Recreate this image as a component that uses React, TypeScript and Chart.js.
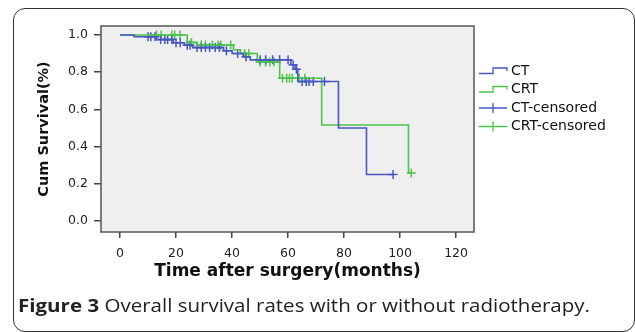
import React, { useEffect, useRef } from "react";
import { Chart, registerables } from "chart.js";

Chart.register(...registerables);

// ---- data ----
const xTicks = [0, 20, 40, 60, 80, 100, 120];
const yTicks = [0, 0.2, 0.4, 0.6, 0.8, 1.0];

const ctTimes = [0, 5, 13, 19, 23, 26, 37, 40, 44, 46.5, 61, 62.5, 63.5, 78, 88, 97.5];
const ctSurv = [1.0, 0.99, 0.975, 0.958, 0.945, 0.932, 0.915, 0.9, 0.883, 0.866, 0.84, 0.815, 0.75, 0.5, 0.25, 0.25];

const ctCensTimes = [10, 11, 12.5, 14.5, 16, 17, 18.5, 20, 21.5, 24, 25, 27.5, 29, 30.5, 32, 34, 35.5, 38, 42, 45, 50, 52, 54.5, 57, 60, 61.8, 63, 65, 66.5, 67.5, 69, 73, 97.5];
const ctCensSurv = [0.99, 0.99, 0.99, 0.975, 0.975, 0.975, 0.975, 0.958, 0.958, 0.945, 0.945, 0.932, 0.932, 0.932, 0.932, 0.932, 0.932, 0.915, 0.9, 0.883, 0.866, 0.866, 0.866, 0.866, 0.866, 0.84, 0.815, 0.75, 0.75, 0.75, 0.75, 0.75, 0.25];

const crtTimes = [0, 24, 27.5, 40.5, 43, 49, 57, 72, 103, 104];
const crtSurv = [1.0, 0.96, 0.946, 0.92, 0.9, 0.855, 0.767, 0.516, 0.258, 0.258];

const crtCensTimes = [13, 14.7, 18.5, 19.5, 21.4, 25.5, 29, 30.5, 33, 35, 36, 39.5, 44.5, 46, 50, 52, 53.5, 55, 58, 59.5, 60.5, 61.5, 64, 66, 104];
const crtCensSurv = [1.0, 1.0, 1.0, 1.0, 1.0, 0.96, 0.946, 0.946, 0.946, 0.946, 0.946, 0.946, 0.9, 0.9, 0.855, 0.855, 0.855, 0.855, 0.767, 0.767, 0.767, 0.767, 0.767, 0.767, 0.258];

const legendLabels = ["CT", "CRT", "CT-censored", "CRT-censored"];

const BLUE = "#4657c2";
const GREEN = "#4cc44c";

const pts = (xs: number[], ys: number[]) => xs.map((x, i) => ({ x, y: ys[i] }));

const framePlugin = {
  id: "frame",
  beforeDatasetsDraw(chart: any) {
    const { ctx, chartArea } = chart;
    const { left, top, right, bottom } = chartArea;
    ctx.save();
    ctx.fillStyle = "#efefef";
    ctx.fillRect(left, top, right - left, bottom - top);
    ctx.strokeStyle = "#555";
    ctx.lineWidth = 1.5;
    ctx.strokeRect(left, top, right - left, bottom - top);
    ctx.restore();
  },
};

const legendPlugin = {
  id: "kmLegend",
  afterDraw(chart: any) {
    const ctx = chart.ctx;
    const x0 = 479;
    const x1 = 507;
    const xm = 493;
    const y0 = 71;
    const gap = 18.5;
    const colors = [BLUE, GREEN, BLUE, GREEN];
    ctx.save();
    ctx.font = '14px "DejaVu Sans"';
    ctx.textBaseline = "middle";
    ctx.textAlign = "left";
    legendLabels.forEach((label, i) => {
      const y = y0 + i * gap;
      ctx.strokeStyle = colors[i];
      ctx.lineWidth = 1.3;
      ctx.beginPath();
      if (i < 2) {
        ctx.moveTo(x0, y + 2.5);
        ctx.lineTo(xm, y + 2.5);
        ctx.lineTo(xm, y - 3);
        ctx.lineTo(x1, y - 3);
        ctx.lineTo(x1, y);
      } else {
        ctx.moveTo(x0, y);
        ctx.lineTo(x1, y);
        ctx.moveTo(xm, y - 5);
        ctx.lineTo(xm, y + 5);
      }
      ctx.stroke();
      ctx.fillStyle = "#111";
      ctx.fillText(label, 511, y);
    });
    ctx.restore();
  },
};

export default function App() {
  const ref = useRef<HTMLCanvasElement>(null);

  useEffect(() => {
    const prev = document.body.style.margin;
    document.body.style.margin = "0";
    const chart = new Chart(ref.current as HTMLCanvasElement, {
      type: "line",
      data: {
        datasets: [
          {
            label: legendLabels[0],
            data: pts(ctTimes, ctSurv),
            borderColor: BLUE,
            borderWidth: 1.6,
            stepped: true,
            pointRadius: 0,
            fill: false,
          },
          {
            label: legendLabels[1],
            data: pts(crtTimes, crtSurv),
            borderColor: GREEN,
            borderWidth: 1.6,
            stepped: true,
            pointRadius: 0,
            fill: false,
          },
          {
            label: legendLabels[2],
            data: pts(ctCensTimes, ctCensSurv),
            showLine: false,
            borderColor: BLUE,
            backgroundColor: BLUE,
            pointStyle: "cross",
            pointRadius: 4.5,
            pointBorderWidth: 1.5,
          },
          {
            label: legendLabels[3],
            data: pts(crtCensTimes, crtCensSurv),
            showLine: false,
            borderColor: GREEN,
            backgroundColor: GREEN,
            pointStyle: "cross",
            pointRadius: 4.5,
            pointBorderWidth: 1.5,
          },
        ],
      },
      options: {
        responsive: false,
        animation: false,
        layout: { padding: { left: 0, top: 26, right: 161, bottom: 47 } },
        plugins: {
          legend: { display: false },
          tooltip: { enabled: false },
        },
        scales: {
          x: {
            type: "linear",
            min: -6.8,
            max: 126.4,
            afterBuildTicks: (s: any) => {
              s.ticks = xTicks.map((v) => ({ value: v }));
            },
            afterFit: (s: any) => {
              s.height = 53;
            },
            grid: { drawOnChartArea: false, drawTicks: true, tickLength: 6, color: "#444", lineWidth: 1.5 },
            border: { display: false },
            ticks: {
              padding: 8,
              color: "#222",
              autoSkip: false,
              maxRotation: 0,
              font: { family: "DejaVu Sans", size: 12.5 },
              callback: (v: any) => String(v),
            },
            title: {
              display: true,
              text: "Time after surgery(months)",
              color: "#111",
              font: { family: "DejaVu Sans", size: 17, weight: "bold" },
              padding: { top: 0, bottom: 3 },
            },
          },
          y: {
            type: "linear",
            min: -0.059,
            max: 1.048,
            afterBuildTicks: (s: any) => {
              s.ticks = yTicks.map((v) => ({ value: v }));
            },
            afterFit: (s: any) => {
              s.width = 101;
            },
            grid: { drawOnChartArea: false, drawTicks: true, tickLength: 7, color: "#444", lineWidth: 1.5 },
            border: { display: false },
            ticks: {
              padding: 6,
              color: "#222",
              autoSkip: false,
              font: { family: "DejaVu Sans", size: 12.5 },
              callback: (v: any) => Number(v).toFixed(1),
            },
            title: {
              display: true,
              text: "Cum Survival(%)",
              color: "#111",
              font: { family: "DejaVu Sans", size: 14.5, weight: "bold" },
              padding: { top: 36, bottom: 0 },
            },
          },
        },
      } as any,
      plugins: [framePlugin, legendPlugin],
    });
    return () => {
      chart.destroy();
      document.body.style.margin = prev;
    };
  }, []);

  return (
    <div style={{ position: "relative", width: 635, height: 332, background: "#fff", overflow: "hidden" }}>
      <div
        style={{
          position: "absolute",
          left: 13,
          top: 8,
          width: 622,
          height: 324,
          border: "1.5px solid #333",
          borderRadius: 12,
          boxSizing: "border-box",
        }}
      />
      <canvas ref={ref} width={635} height={332} style={{ position: "absolute", left: 0, top: 0 }} />
      <div
        style={{
          position: "absolute",
          left: 18,
          top: 294,
          fontFamily: '"Open Sans", sans-serif',
          fontSize: 18,
          lineHeight: "22px",
          color: "#222",
          whiteSpace: "nowrap",
          transform: "scaleX(1.14)",
          transformOrigin: "left center",
        }}
      >
        <b>Figure 3</b> Overall survival rates with or without radiotherapy.
      </div>
    </div>
  );
}
